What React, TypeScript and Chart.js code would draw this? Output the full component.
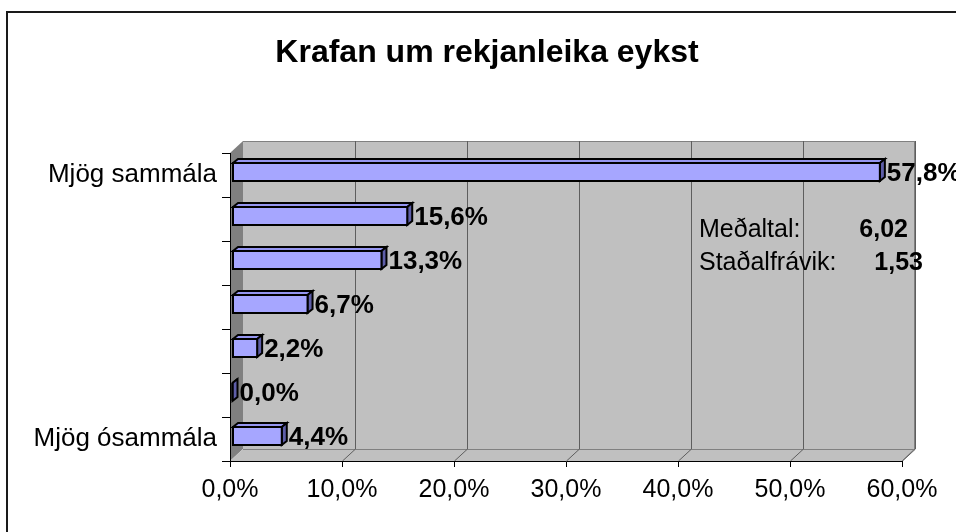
import React, { useEffect, useRef } from "react";
import { Chart, registerables } from "chart.js";

Chart.register(...registerables);

const categories = ["Mjög sammála", "", "", "", "", "", "Mjög ósammála"];
const values = [57.8, 15.6, 13.3, 6.7, 2.2, 0.0, 4.4];
const xMax = 60;
const xStep = 10;
const titleText = "Krafan um rekjanleika eykst";
const statNames = ["Meðaltal:", "Staðalfrávik:"];
const statValues = ["6,02", "1,53"];

const FONT = "'Liberation Sans', Arial, sans-serif";
const fmt = (v: number) => v.toFixed(1).replace(".", ",") + "%";

export default function App() {
  const ref = useRef<HTMLCanvasElement | null>(null);

  useEffect(() => {
    document.body.style.margin = "0";
    const canvas = ref.current;
    if (!canvas) return;

    const DX = 13;
    const DY = -12;
    const SX = 2.5;
    const SY = -3;
    const BDX = 5;
    const BDY = -4;

    const walls = {
      id: "walls",
      beforeDraw(chart: any) {
        const { ctx, chartArea: a, scales } = chart;
        const { left: L, right: R, top: T, bottom: B } = a;
        ctx.save();
        ctx.fillStyle = "#ffffff";
        ctx.fillRect(0, 0, chart.width, chart.height);
        // outer frame
        ctx.strokeStyle = "#1a1a1a";
        ctx.lineWidth = 2;
        ctx.beginPath();
        ctx.moveTo(7, chart.height + 2);
        ctx.lineTo(7, 12);
        ctx.lineTo(chart.width + 2, 12);
        ctx.stroke();
        // title
        ctx.fillStyle = "#000000";
        ctx.font = `bold 32px ${FONT}`;
        ctx.textAlign = "center";
        ctx.textBaseline = "alphabetic";
        ctx.fillText(titleText, 487, 62);
        // back wall
        ctx.lineWidth = 1;
        ctx.fillStyle = "#c0c0c0";
        ctx.fillRect(L + DX, T + DY, R - L, B - T);
        // left wall
        ctx.fillStyle = "#808080";
        ctx.beginPath();
        ctx.moveTo(L, T);
        ctx.lineTo(L + DX, T + DY);
        ctx.lineTo(L + DX, B + DY);
        ctx.lineTo(L, B);
        ctx.closePath();
        ctx.fill();
        // floor
        ctx.fillStyle = "#c0c0c0";
        ctx.beginPath();
        ctx.moveTo(L, B);
        ctx.lineTo(L + DX, B + DY);
        ctx.lineTo(R + DX, B + DY);
        ctx.lineTo(R, B);
        ctx.closePath();
        ctx.fill();
        // edges
        ctx.strokeStyle = "#808080";
        ctx.beginPath();
        ctx.moveTo(L + DX, B + DY + 0.5);
        ctx.lineTo(R + DX, B + DY + 0.5);
        ctx.moveTo(R + DX - 0.5, T + DY);
        ctx.lineTo(R + DX - 0.5, B + DY);
        ctx.lineTo(R, B);
        ctx.moveTo(L + DX, T + DY + 0.5);
        ctx.lineTo(R + DX, T + DY + 0.5);
        ctx.stroke();
        // gridlines
        ctx.strokeStyle = "#5e5e5e";
        const xs = scales.x;
        xs.ticks.forEach((t: any) => {
          if (t.value === 0) return;
          const px = Math.round(xs.getPixelForValue(t.value)) + 0.5;
          ctx.beginPath();
          ctx.moveTo(px + DX, T + DY);
          ctx.lineTo(px + DX, B + DY);
          ctx.lineTo(px, B);
          ctx.stroke();
        });
        ctx.restore();
      },
      afterDatasetsDraw(chart: any) {
        const { ctx, chartArea: a } = chart;
        const meta = chart.getDatasetMeta(0);
        ctx.save();
        ctx.lineJoin = "miter";
        meta.data.forEach((el: any, i: number) => {
          const x0 = el.base + SX;
          const x1 = el.x + SX;
          const top = el.y - el.height / 2 + SY;
          const bot = el.y + el.height / 2 + SY;
          ctx.lineWidth = 2;
          ctx.strokeStyle = "#000000";
          // top face
          ctx.fillStyle = "#9595f0";
          ctx.beginPath();
          ctx.moveTo(x0, top);
          ctx.lineTo(x0 + BDX, top + BDY);
          ctx.lineTo(x1 + BDX, top + BDY);
          ctx.lineTo(x1, top);
          ctx.closePath();
          ctx.fill();
          ctx.stroke();
          // right face
          ctx.fillStyle = "#5e5ea8";
          ctx.beginPath();
          ctx.moveTo(x1, top);
          ctx.lineTo(x1 + BDX, top + BDY);
          ctx.lineTo(x1 + BDX, bot + BDY);
          ctx.lineTo(x1, bot);
          ctx.closePath();
          ctx.fill();
          ctx.stroke();
          // front face
          ctx.fillStyle = "#a6a6ff";
          ctx.beginPath();
          ctx.rect(x0, top, x1 - x0, bot - top);
          ctx.fill();
          ctx.stroke();
          // label
          ctx.fillStyle = "#000000";
          ctx.font = `bold 26px ${FONT}`;
          ctx.textAlign = "left";
          ctx.textBaseline = "middle";
          ctx.fillText(fmt(values[i]), x1 + BDX + 2, el.y + SY + 2);
        });
        // stats box
        ctx.font = `25px ${FONT}`;
        ctx.textBaseline = "alphabetic";
        ctx.textAlign = "left";
        const bx = a.left + 469;
        const by = a.top + 84;
        statNames.forEach((s, i) => ctx.fillText(s, bx, by + i * 33));
        ctx.font = `bold 25px ${FONT}`;
        ctx.textAlign = "right";
        ctx.fillText(statValues[0], bx + 209, by);
        ctx.fillText(statValues[1], bx + 224, by + 33);
        ctx.restore();
      },
    };

    const chart = new Chart(canvas, {
      type: "bar",
      data: {
        labels: categories,
        datasets: [
          {
            data: values,
            backgroundColor: "rgba(0,0,0,0)",
            borderWidth: 0,
            barThickness: 18,
          },
        ],
      },
      options: {
        indexAxis: "y",
        animation: false,
        responsive: false,
        devicePixelRatio: 1,
        layout: { padding: { left: 0, right: 54, top: 153, bottom: 0 } },
        plugins: {
          legend: { display: false },
          tooltip: { enabled: false },
          title: { display: false },
        },
        scales: {
          x: {
            min: 0,
            max: xMax,
            ticks: {
              stepSize: xStep,
              color: "#000000",
              padding: 8,
              font: { family: FONT, size: 25 },
              callback: (v: any) => fmt(Number(v)),
            },
            grid: {
              display: true,
              drawOnChartArea: false,
              drawTicks: true,
              tickLength: 6,
              color: "#000000",
            },
            border: { display: true, color: "#000000", width: 1 },
            afterFit: (s: any) => {
              s.height = 71;
            },
          },
          y: {
            ticks: {
              color: "#000000",
              padding: 5,
              font: { family: FONT, size: 26 },
            },
            grid: {
              display: true,
              offset: true,
              drawOnChartArea: false,
              drawTicks: true,
              tickLength: 8,
              color: "#000000",
            },
            border: { display: true, color: "#000000", width: 1 },
            afterFit: (s: any) => {
              s.width = 230;
            },
          },
        },
      },
      plugins: [walls],
    });

    return () => chart.destroy();
  }, []);

  return (
    <div style={{ width: 956, height: 532 }}>
      <canvas ref={ref} width={956} height={532} style={{ display: "block" }} />
    </div>
  );
}
